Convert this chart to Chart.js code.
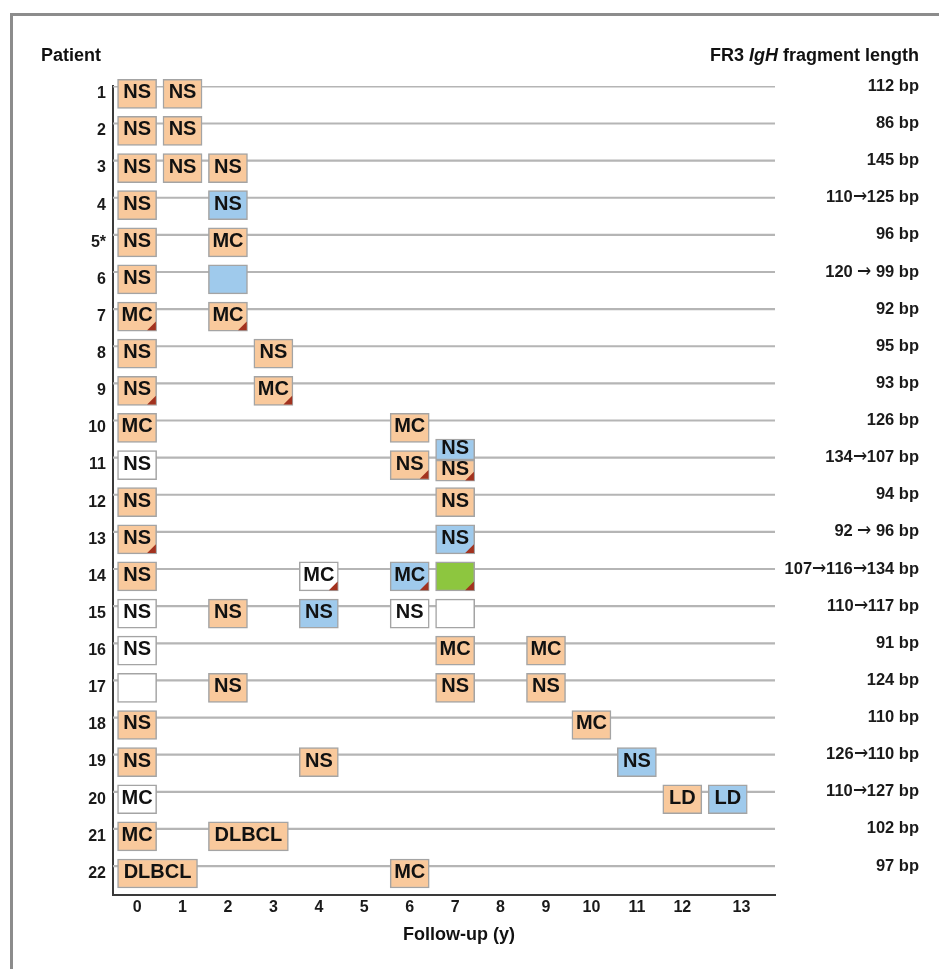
<!DOCTYPE html>
<html>
<head>
<meta charset="utf-8">
<script src="https://cdn.jsdelivr.net/npm/chart.js@4.4.0/dist/chart.umd.min.js"></script>
<style>
  @font-face {
    font-family: 'ArrowFont';
    src: local('DejaVu Sans'), local('DejaVuSans');
    font-weight: bold;
    unicode-range: U+2190-21FF;
  }
  @font-face {
    font-family: 'ArrowFont';
    src: local('DejaVu Sans'), local('DejaVuSans');
    font-weight: normal;
    unicode-range: U+2190-21FF;
  }
  html, body { margin: 0; padding: 0; background: #ffffff; }
  #wrap { width: 939px; height: 969px; position: relative; }
</style>
</head>
<body>
<div id="wrap"><canvas id="c" width="939" height="969"></canvas></div>
<script>
// ---------------- DATA ----------------
const patients = ['1','2','3','4','5*','6','7','8','9','10','11','12','13','14','15','16','17','18','19','20','21','22'];
const fragmentLengths = ['112 bp','86 bp','145 bp','110\u2192125 bp','96 bp','120 \u2192 99 bp','92 bp','95 bp','93 bp',
  '126 bp','134\u2192107 bp','94 bp','92 \u2192 96 bp','107\u2192116\u2192134 bp','110\u2192117 bp','91 bp','124 bp',
  '110 bp','126\u2192110 bp','110\u2192127 bp','102 bp','97 bp'];
const xTickValues = [0,1,2,3,4,5,6,7,8,9,10,11,12,13.3];
const xTickLabels = ['0','1','2','3','4','5','6','7','8','9','10','11','12','13'];

// One entry per biopsy: patient row, follow-up year, histology, finding type, red corner marker
const sampleRow   = [1,1, 2,2, 3,3,3, 4,4, 5,5, 6,6, 7,7, 8,8, 9,9, 10,10, 11,11, 12,12, 13,13,
                     14,14,14,14, 15,15,15,15,15, 16,16,16, 17,17,17,17, 18,18, 19,19,19, 20,20,20, 21,21, 22,22];
const sampleYear  = [0,1, 0,1, 0,1,2, 0,2, 0,2, 0,2, 0,2, 0,3, 0,3, 0,6, 0,6, 0,7, 0,7,
                     0,4,6,7, 0,2,4,6,7, 0,7,9, 0,2,7,9, 0,10, 0,4,11, 0,12,13, 0,2, 0,6];
const sampleLabel = ['NS','NS', 'NS','NS', 'NS','NS','NS', 'NS','NS', 'NS','MC', 'NS','', 'MC','MC', 'NS','NS', 'NS','MC',
                     'MC','MC', 'NS','NS', 'NS','NS', 'NS','NS',
                     'NS','MC','MC','', 'NS','NS','NS','NS','', 'NS','MC','MC', '','NS','NS','NS', 'NS','MC',
                     'NS','NS','NS', 'MC','LD','LD', 'MC','DLBCL', 'DLBCL','MC'];
const sampleType  = ['O','O', 'O','O', 'O','O','O', 'O','B', 'O','O', 'O','B', 'O','O', 'O','O', 'O','O',
                     'O','O', 'W','O', 'O','O', 'O','B',
                     'O','W','B','G', 'W','O','B','W','W', 'W','O','O', 'W','O','O','O', 'O','O',
                     'O','O','B', 'W','O','B', 'O','O', 'O','O'];
const sampleMark  = [0,0, 0,0, 0,0,0, 0,0, 0,0, 0,0, 1,1, 0,0, 1,1, 0,0, 0,1, 0,0, 1,1,
                     0,1,1,1, 0,0,0,0,0, 0,0,0, 0,0,0,0, 0,0, 0,0,0, 0,0,0, 0,0, 0,0];

// Split biopsy (patient 11, year 7): two clones in one sample
const splitRow   = [11, 11];
const splitYear  = [7, 7];
const splitLabel = ['NS', 'NS'];
const splitType  = ['B', 'O'];
const splitMark  = [0, 1];
const splitPart  = ['top', 'bottom'];

// ---------------- STYLE / GEOMETRY ----------------
const FONT = '"Liberation Sans", Arial, Helvetica, sans-serif';
const FONT_ARROW = 'ArrowFont, "Liberation Sans", Arial, Helvetica, sans-serif';
const fillColors = { O: '#f9c99c', B: '#9fcaec', W: '#ffffff', G: '#8dc63f' };
const X_MIN = -0.53, X_MAX = 14.04;
const Y_MIN = 0.99, Y_MAX = 22.78;
const HALF = 0.43;           // half box width in years
function boxRange(year, label) {
  const w = label.length > 3 ? 1.76 : 0.86;
  return [year - HALF, year - HALF + w];
}

function build() {
  const mainBoxes = {
    type: 'bar',
    indexAxis: 'y',
    xAxisID: 'x', yAxisID: 'y',
    stack: 'samples',
    order: 0,
    clip: false,
    barThickness: 29,
    data: sampleRow.map((r, i) => ({ x: boxRange(sampleYear[i], sampleLabel[i]), y: r + 0.2 })),
    backgroundColor: sampleType.map(t => fillColors[t]),
    borderColor: '#a4a4a4',
    borderWidth: 1.5,
    borderSkipped: false,
    sampleLabels: sampleLabel,
    sampleMarks: sampleMark
  };
  const splitBoxes = {
    type: 'bar',
    indexAxis: 'y',
    xAxisID: 'x', yAxisID: 'y',
    stack: 'samples',
    order: 0,
    clip: false,
    barThickness: 21,
    data: splitRow.map((r, i) => ({ x: boxRange(splitYear[i], splitLabel[i]), y: r + (splitPart[i] === 'top' ? -0.22 : 0.35) })),
    backgroundColor: splitType.map(t => fillColors[t]),
    borderColor: '#a4a4a4',
    borderWidth: 1.5,
    borderSkipped: false,
    sampleLabels: splitLabel,
    sampleMarks: splitMark
  };
  const rowLines = patients.map((p, i) => ({
    type: 'line',
    xAxisID: 'x', yAxisID: 'y',
    order: 5,
    data: [{ x: X_MIN, y: i + 1 }, { x: X_MAX, y: i + 1 }],
    borderColor: '#b5b5b5',
    borderWidth: 2.2,
    pointRadius: 0,
    fill: false
  }));

  const decor = {
    id: 'decor',
    beforeDraw(chart) {
      const ctx = chart.ctx;
      ctx.save();
      ctx.strokeStyle = '#8c8c8c';
      ctx.lineWidth = 3;
      ctx.beginPath();
      ctx.moveTo(11.5, 969);
      ctx.lineTo(11.5, 14.5);
      ctx.lineTo(939, 14.5);
      ctx.stroke();
      ctx.restore();
    },
    afterDatasetsDraw(chart) {
      const ctx = chart.ctx;
      ctx.save();
      chart.data.datasets.forEach((ds, di) => {
        if (!ds.sampleLabels) return;
        const meta = chart.getDatasetMeta(di);
        meta.data.forEach((el, i) => {
          const p = el.getProps(['x', 'y', 'base', 'height'], true);
          const left = Math.min(p.x, p.base), right = Math.max(p.x, p.base);
          const top = p.y - p.height / 2, bottom = p.y + p.height / 2;
          if (ds.sampleMarks[i]) {
            ctx.fillStyle = '#a2321f';
            ctx.beginPath();
            ctx.moveTo(right - 0.75, bottom - 9.5);
            ctx.lineTo(right - 0.75, bottom - 0.75);
            ctx.lineTo(right - 9.5, bottom - 0.75);
            ctx.closePath();
            ctx.fill();
          }
          const label = ds.sampleLabels[i];
          if (label) {
            ctx.fillStyle = '#111111';
            ctx.font = 'bold 20px ' + FONT;
            ctx.textAlign = 'center';
            ctx.textBaseline = 'middle';
            ctx.fillText(label, (left + right) / 2, (top + bottom) / 2 - 1);
          }
        });
      });
      ctx.restore();
    },
    afterDraw(chart) {
      const ctx = chart.ctx;
      ctx.save();
      ctx.fillStyle = '#111111';
      ctx.textBaseline = 'alphabetic';
      ctx.font = 'bold 18px ' + FONT;
      ctx.textAlign = 'left';
      ctx.fillText('Patient', 41, 61);
      const parts = [['FR3 ', 'bold 18px '], ['IgH', 'italic bold 18px '], [' fragment length', 'bold 18px ']];
      let total = 0;
      parts.forEach(pt => { ctx.font = pt[1] + FONT; total += ctx.measureText(pt[0]).width; });
      let x = 919 - total;
      parts.forEach(pt => { ctx.font = pt[1] + FONT; ctx.fillText(pt[0], x, 61); x += ctx.measureText(pt[0]).width; });
      ctx.font = 'bold 18px ' + FONT;
      ctx.textAlign = 'center';
      ctx.textBaseline = 'middle';
      ctx.fillText('Follow-up (y)', 459, 935);
      ctx.restore();
    }
  };

  Chart.defaults.font.family = FONT;
  new Chart(document.getElementById('c'), {
    type: 'bar',
    data: { datasets: [mainBoxes, splitBoxes, ...rowLines] },
    options: {
      responsive: false,
      animation: false,
      devicePixelRatio: 1,
      layout: { padding: { top: 86, right: 20, bottom: 0, left: 0 } },
      plugins: { legend: { display: false }, tooltip: { enabled: false } },
      scales: {
        x: {
          type: 'linear', position: 'bottom', axis: 'x',
          min: X_MIN, max: X_MAX, offset: false, stacked: false,
          grid: { display: false, drawTicks: false, offset: false },
          border: { display: true, color: '#3a3a3a', width: 2 },
          afterBuildTicks: s => { s.ticks = xTickValues.map(v => ({ value: v })); },
          afterFit: s => { s.height = 74; },
          ticks: {
            autoSkip: false, maxRotation: 0, padding: 3, color: '#1a1a1a',
            font: { size: 16, weight: 'bold' },
            callback: (v, i) => xTickLabels[i]
          }
        },
        y: {
          type: 'linear', position: 'left', axis: 'y', reverse: true,
          min: Y_MIN, max: Y_MAX, offset: false,
          grid: { display: false, drawTicks: false, offset: false },
          border: { display: true, color: '#3a3a3a', width: 2 },
          afterBuildTicks: s => { s.ticks = patients.map((p, i) => ({ value: i + 1 + 0.2 })); },
          afterFit: s => { s.width = 113; },
          ticks: {
            autoSkip: false, padding: 7, color: '#1a1a1a',
            font: { size: 16, weight: 'bold' },
            callback: (v, i) => patients[i]
          }
        },
        y2: {
          type: 'linear', position: 'right', axis: 'y', reverse: true,
          min: Y_MIN, max: Y_MAX, offset: false,
          grid: { display: false, drawTicks: false, offset: false },
          border: { display: false },
          afterBuildTicks: s => { s.ticks = fragmentLengths.map((f, i) => ({ value: i + 1 })); },
          afterFit: s => { s.width = 144; },
          ticks: {
            autoSkip: false, crossAlign: 'far', padding: 0, color: '#1a1a1a',
            font: { size: 16.5, weight: 'bold', family: FONT_ARROW },
            callback: (v, i) => fragmentLengths[i]
          }
        }
      }
    },
    plugins: [decor]
  });
}

let built = false;
function go() { if (!built) { built = true; build(); } }
if (document.fonts && document.fonts.load) {
  document.fonts.load('bold 16px ArrowFont', '\u2192').then(go, go);
  setTimeout(go, 1500);
} else {
  go();
}
</script>
</body>
</html>
